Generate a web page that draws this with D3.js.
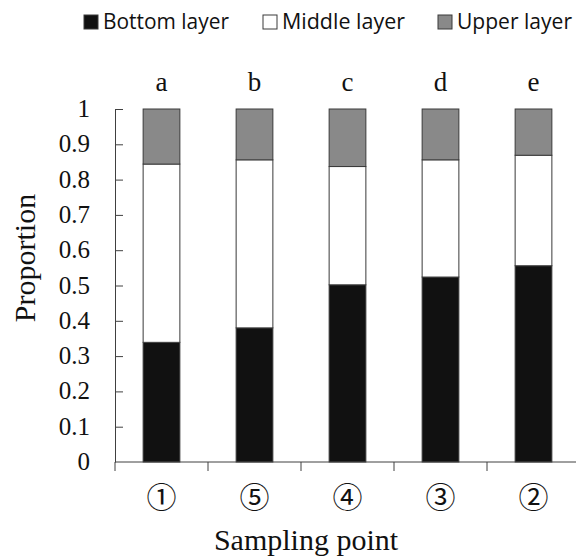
<!DOCTYPE html>
<html>
<head>
<meta charset="utf-8">
<script src="https://cdn.jsdelivr.net/npm/d3@7"></script>
<style>
  body { margin: 0; background: #fff; }
  svg { display: block; }
  .serif { font-family: "Liberation Serif", "Times New Roman", serif; fill: #111; }
  .axis path, .axis line { stroke: #404040; stroke-width: 1; }
</style>
</head>
<body>
<svg id="chart" width="576" height="557"></svg>
<script>
// sampling points (x order), group letters and stacked proportions
const points = ['\u2460', '\u2464', '\u2463', '\u2462', '\u2461'];
const letters = ['a', 'b', 'c', 'd', 'e'];
const bottomLayer = [0.339, 0.380, 0.502, 0.524, 0.556];
const middleLayer = [0.505, 0.476, 0.335, 0.332, 0.313];
const upperLayer = [0.156, 0.144, 0.163, 0.144, 0.131];
const layerNames = ['Bottom layer', 'Middle layer', 'Upper layer'];
const yTicks = [0, 0.1, 0.2, 0.3, 0.4, 0.5, 0.6, 0.7, 0.8, 0.9, 1];
const yTickLabels = ['0', '0.1', '0.2', '0.3', '0.4', '0.5', '0.6', '0.7', '0.8', '0.9', '1'];

const colors = ['#111111', '#ffffff', '#898989'];
const keys = ['bottom', 'middle', 'upper'];

const rows = points.map((p, i) => ({
  point: p, bottom: bottomLayer[i], middle: middleLayer[i], upper: upperLayer[i]
}));

const svg = d3.select('#chart');

const x = d3.scaleBand().domain(points).range([115, 580]).padding(0);
const y = d3.scaleLinear().domain([0, 1]).range([462, 109]);
const barW = x.bandwidth() * 0.395;

const series = d3.stack().keys(keys)(rows);

// bars
svg.append('g')
  .selectAll('g')
  .data(series)
  .join('g')
    .attr('fill', (d, i) => colors[i])
  .selectAll('rect')
  .data(d => d)
  .join('rect')
    .attr('x', d => x(d.data.point) + (x.bandwidth() - barW) / 2)
    .attr('y', d => y(d[1]))
    .attr('width', barW)
    .attr('height', d => y(d[0]) - y(d[1]))
    .attr('stroke', '#3a3a3a')
    .attr('stroke-width', 1);

// y axis, ticks pointing inward; labels drawn separately in serif
const yAxis = d3.axisLeft(y)
  .tickValues(yTicks)
  .tickSizeInner(-8)
  .tickSizeOuter(0)
  .tickFormat('');

const yAxisG = svg.append('g')
  .attr('class', 'axis')
  .attr('transform', 'translate(115,0)')
  .call(yAxis);
yAxisG.selectAll('.tick').filter(d => d === 0).select('line').remove();

svg.append('g')
  .selectAll('text')
  .data(yTicks)
  .join('text')
    .attr('class', 'serif')
    .attr('x', 90)
    .attr('y', d => y(d))
    .attr('dy', '0.32em')
    .attr('text-anchor', 'end')
    .style('font-size', '25px')
    .text((d, i) => yTickLabels[i]);

// x axis: line, boundary ticks, circled labels
svg.append('line')
  .attr('x1', 115).attr('x2', 580)
  .attr('y1', y(0)).attr('y2', y(0))
  .attr('stroke', '#404040');

svg.append('g')
  .selectAll('line')
  .data(points)
  .join('line')
    .attr('x1', d => x(d)).attr('x2', d => x(d))
    .attr('y1', y(0)).attr('y2', y(0) + 9)
    .attr('stroke', '#404040');

svg.append('g')
  .selectAll('text')
  .data(points)
  .join('text')
    .attr('x', d => x(d) + x.bandwidth() / 2)
    .attr('y', 497)
    .attr('dy', '0.38em')
    .attr('text-anchor', 'middle')
    .style('font-family', '"Noto Sans CJK JP", sans-serif')
    .style('font-size', '30px')
    .style('font-weight', '400')
    .attr('fill', '#111')
    .text(d => d);

// significance letters above bars
svg.append('g')
  .selectAll('text')
  .data(letters)
  .join('text')
    .attr('class', 'serif')
    .attr('x', (d, i) => x(points[i]) + x.bandwidth() / 2)
    .attr('y', 91)
    .attr('text-anchor', 'middle')
    .style('font-size', '27px')
    .text(d => d);

// axis titles
svg.append('text')
  .attr('class', 'serif')
  .attr('transform', 'translate(35,258) rotate(-90)')
  .attr('text-anchor', 'middle')
  .style('font-size', '30px')
  .text('Proportion');

svg.append('text')
  .attr('class', 'serif')
  .attr('x', 306)
  .attr('y', 550)
  .attr('text-anchor', 'middle')
  .style('font-size', '30px')
  .text('Sampling point');

// legend
const legendX = [84, 263, 438];
const legendTextW = [126, 123, 115];
const legend = svg.append('g')
  .selectAll('g')
  .data(layerNames)
  .join('g')
    .attr('transform', (d, i) => `translate(${legendX[i]},0)`);

legend.append('rect')
  .attr('x', 0).attr('y', 15)
  .attr('width', 14).attr('height', 14)
  .attr('fill', (d, i) => colors[i])
  .attr('stroke', '#3a3a3a');

legend.append('text')
  .attr('x', 19)
  .attr('y', 29)
  .attr('textLength', (d, i) => legendTextW[i])
  .attr('lengthAdjust', 'spacingAndGlyphs')
  .style('font-family', '"Open Sans", sans-serif')
  .style('font-size', '21px')
  .attr('fill', '#111')
  .text(d => d);
</script>
</body>
</html>
